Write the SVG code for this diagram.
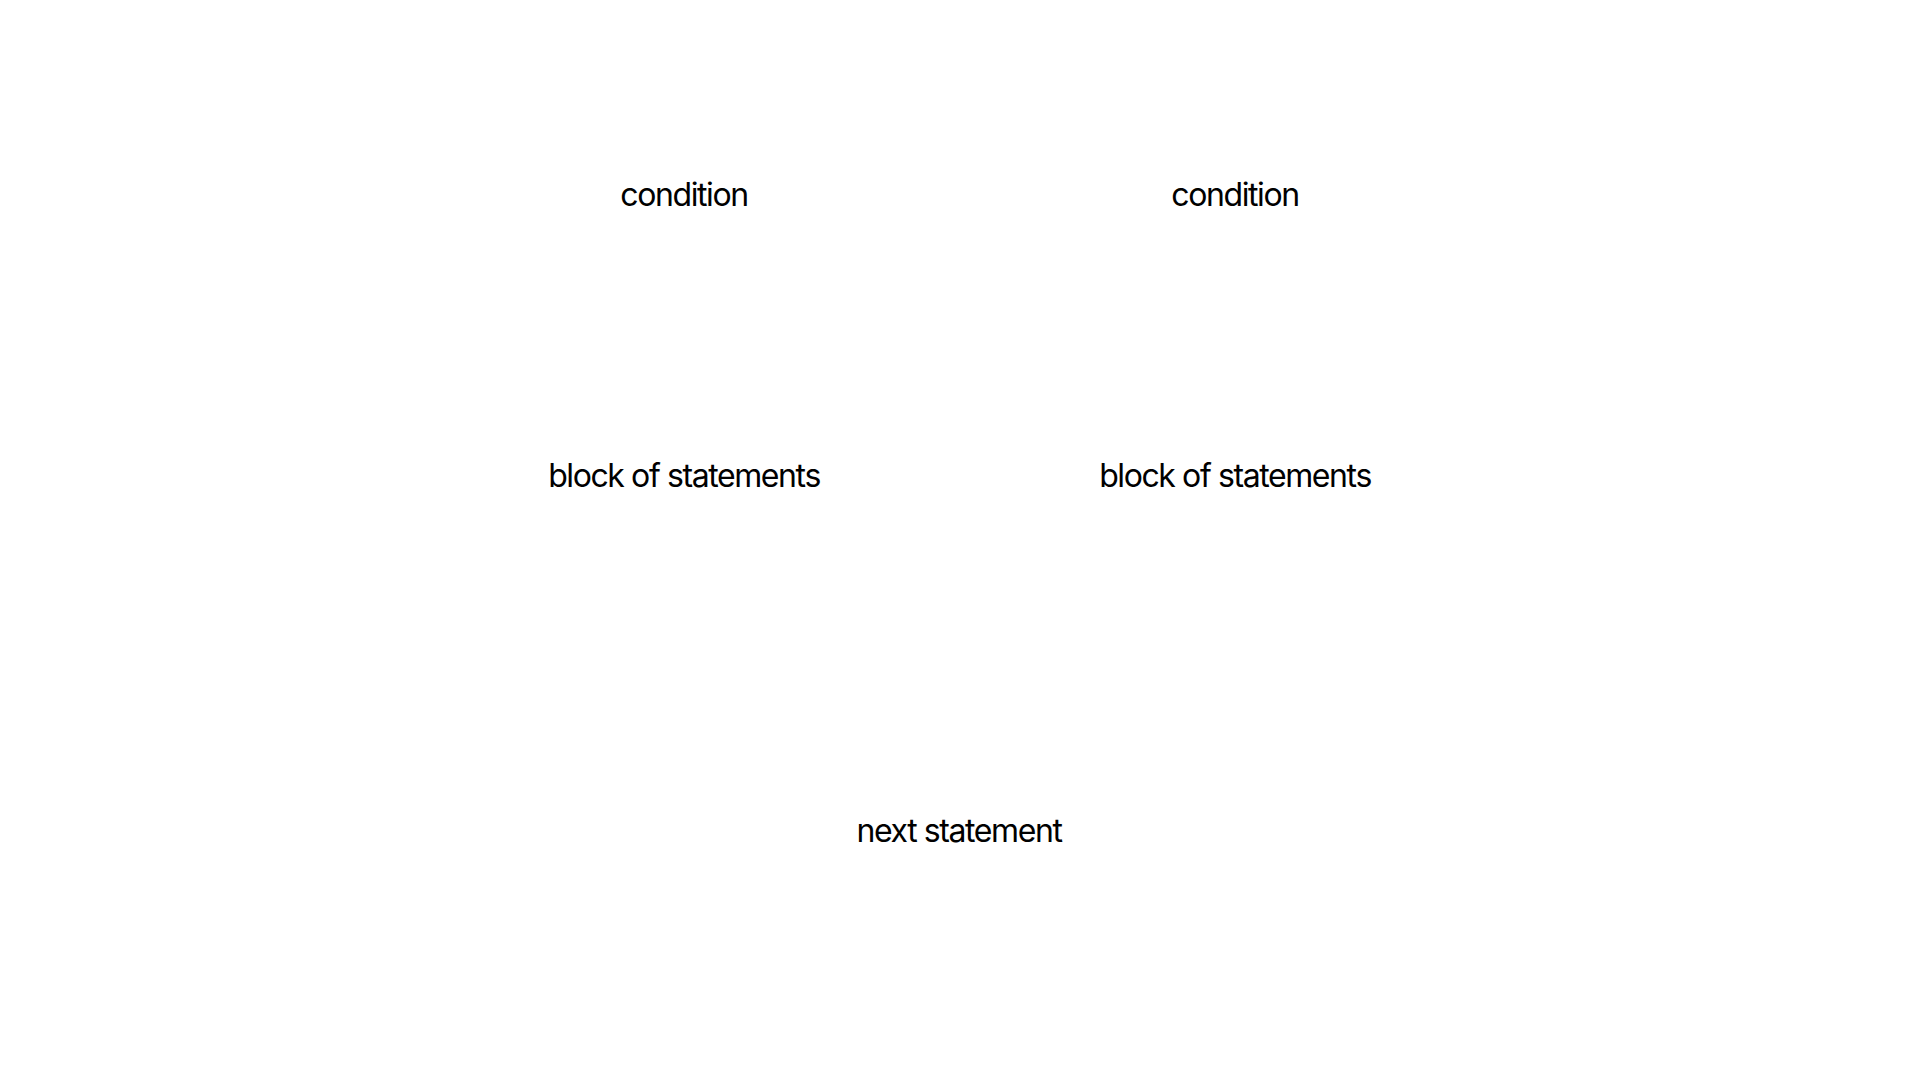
<svg xmlns="http://www.w3.org/2000/svg" width="1920" height="1080" viewBox="0 0 1920 1080">
  <style>
    .label { font-family: Inter, "Liberation Sans", sans-serif; font-size: 32px; letter-spacing: -1.4px; fill: #000; text-anchor: middle; }
  </style>
  <rect width="1920" height="1080" fill="#fff"/>
  <g id="cond-left"><text class="label" x="684" y="206">condition</text></g>
  <g id="cond-right"><text class="label" x="1235" y="206">condition</text></g>
  <g id="block-left"><text class="label" x="684" y="487">block of statements</text></g>
  <g id="block-right"><text class="label" x="1235" y="487">block of statements</text></g>
  <g id="next"><text class="label" x="959" y="842">next statement</text></g>
</svg>
